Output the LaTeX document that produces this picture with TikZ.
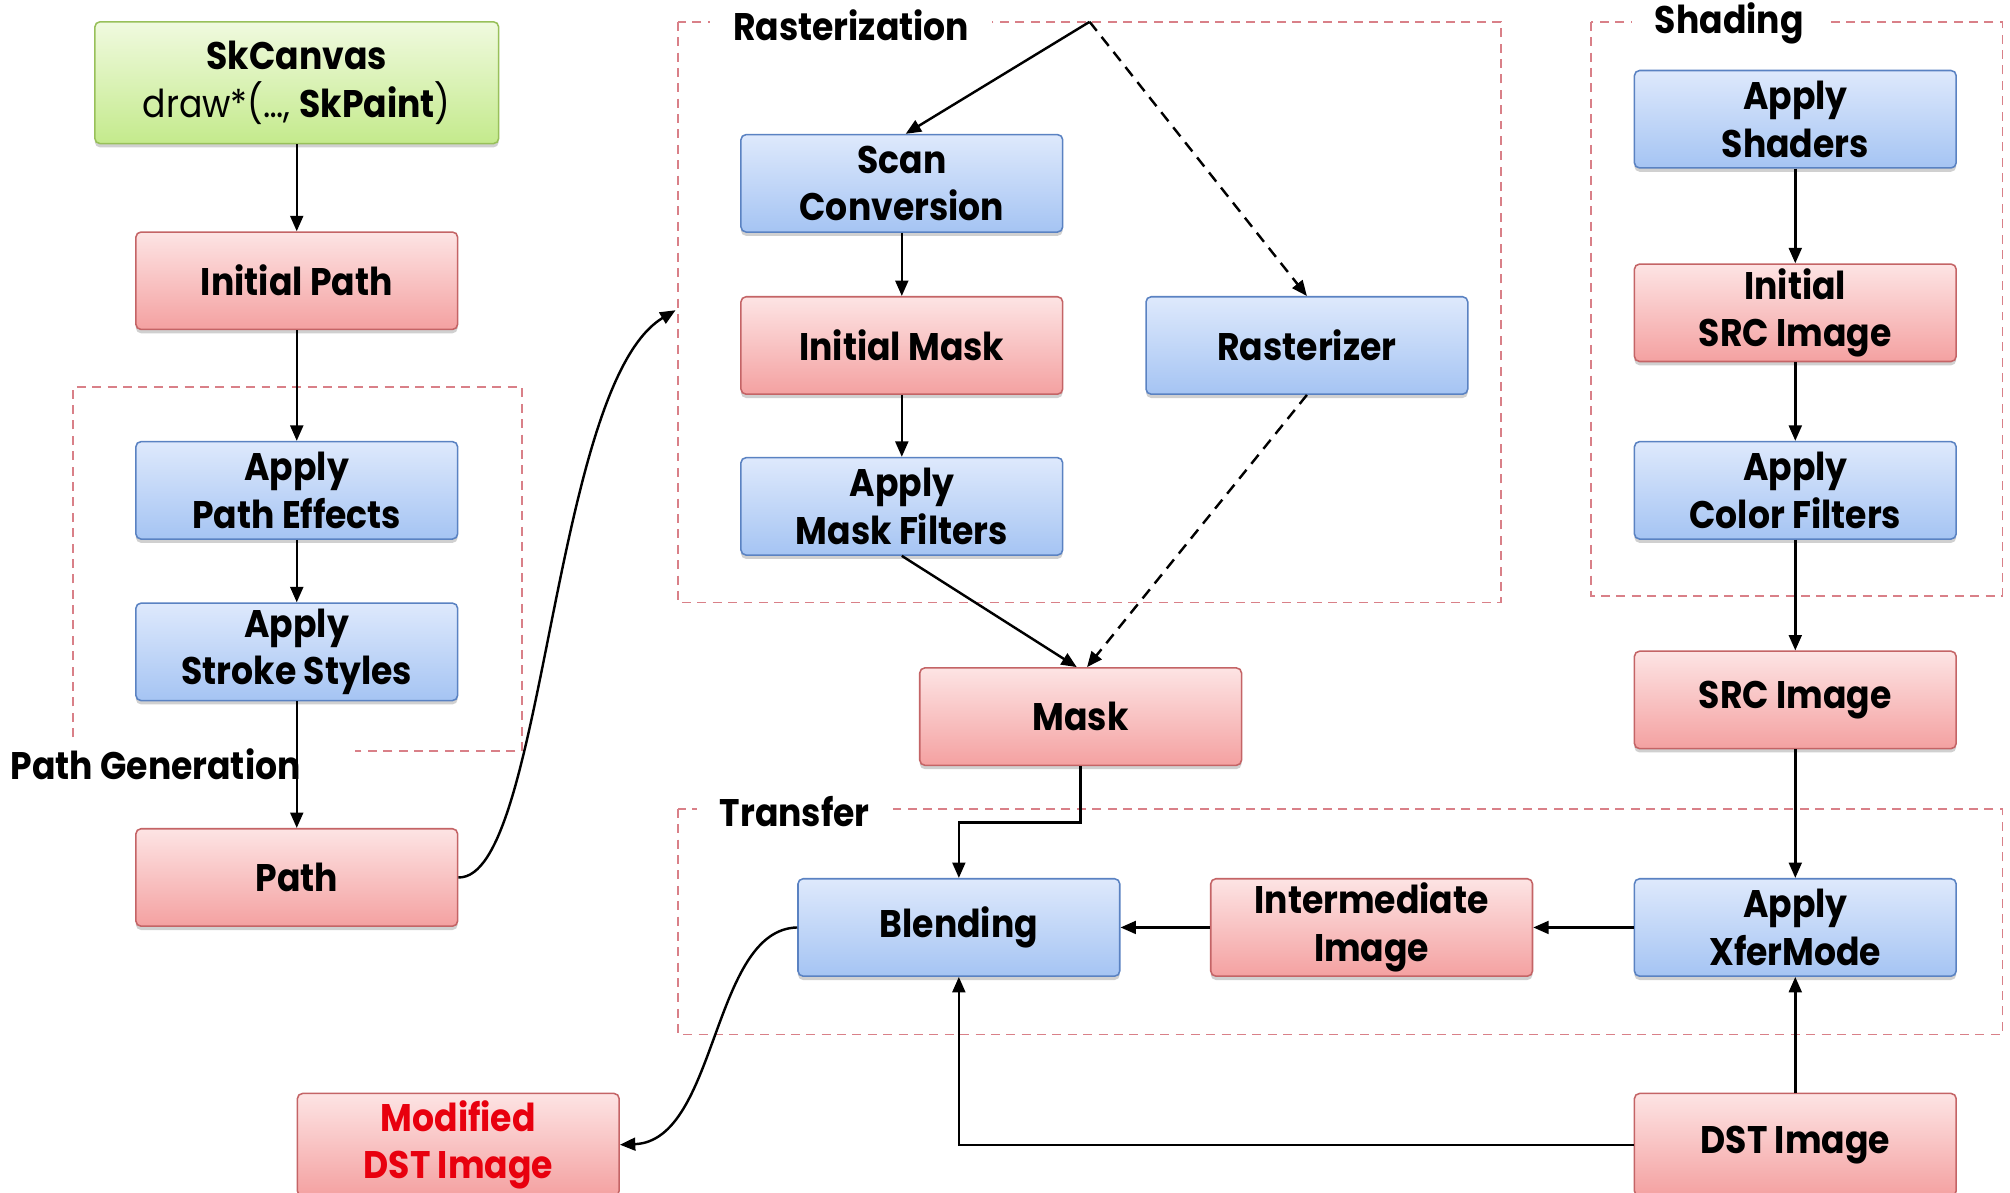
\documentclass[tikz,border=0pt]{standalone}
\usepackage{fontspec}
\setmainfont{Poppins}[FakeStretch=0.9]
\usetikzlibrary{arrows.meta,shadows}

\definecolor{blueTop}{HTML}{DEE9FC}
\definecolor{blueBot}{HTML}{A5C4F3}
\definecolor{blueLine}{HTML}{5A82C2}
\definecolor{redTop}{HTML}{FDE4E4}
\definecolor{redBot}{HTML}{F4A1A1}
\definecolor{redLine}{HTML}{C46466}
\definecolor{greenTop}{HTML}{F0FADF}
\definecolor{greenBot}{HTML}{C4EA8C}
\definecolor{greenLine}{HTML}{98C05A}
\definecolor{groupLine}{HTML}{D98088}
\definecolor{alertRed}{HTML}{E8000E}

\newcommand{\boxfont}{\fontsize{30}{37}\selectfont\bfseries}
\newcommand{\labelfont}{\fontsize{30}{34}\selectfont\bfseries}

\tikzset{
  box/.style={draw, rounded corners=4pt, minimum width=251pt, minimum height=76pt,
    align=center, font=\boxfont, line width=1.2pt, inner sep=0pt,
    drop shadow={shadow xshift=0pt, shadow yshift=-3pt, opacity=0.3, fill=black!60}},
  bluebox/.style={box, draw=blueLine, top color=blueTop, bottom color=blueBot},
  redbox/.style={box, draw=redLine, top color=redTop, bottom color=redBot},
  greenbox/.style={box, draw=greenLine, top color=greenTop, bottom color=greenBot},
  group/.style={draw=groupLine, dash pattern=on 7pt off 5pt, line width=1.2pt},
  grouplabel/.style={fill=white, font=\labelfont, inner xsep=18pt, inner ysep=3pt},
  arr/.style={line width=1.9pt, -{Triangle[length=12pt,width=10pt]}},
  darr/.style={arr, dash pattern=on 9pt off 6pt},
}

\begin{document}
\begin{tikzpicture}[x=1pt,y=-1pt]
\useasboundingbox[fill=white] (0,0) rectangle (1568,930);

% group frames
\draw[group] (57,575) -- (57,302) -- (407,302) -- (407,586) -- (277,586);
\draw[group] (529,17) rectangle (1171,470);
\draw[group] (1241,17) rectangle (1562,465);
\draw[group] (529,631) rectangle (1562,807);

% group titles
\node[grouplabel] (lrast) at (664,20) {Rasterization};
\node[grouplabel] (lshad) at (1349,18) {Shading};
\node[grouplabel] (ltrans) at (620,633) {Transfer};
\node[font=\labelfont, anchor=west, inner sep=0pt] (lpath) at (8,596) {Path Generation};

% path generation column
\node[greenbox, minimum width=315pt, minimum height=95pt] (sk) at (231.5,64.5)
  {SkCanvas\\{\mdseries draw*(…, }SkPaint{\mdseries )}};
\node[redbox]  (ip)   at (231.5,219)   {Initial Path};
\node[bluebox] (ape)  at (231.5,382.5) {Apply\\Path Effects};
\node[bluebox] (ass)  at (231.5,508.5) {Apply\\Stroke Styles};
\node[redbox]  (path) at (231.5,684.5) {Path};
\node[redbox, minimum height=80pt, text=alertRed] (mod) at (357.5,893) {Modified\\DST Image};

% rasterization
\node[bluebox] (scan)  at (703.5,143)   {Scan\\Conversion};
\node[redbox]  (imask) at (703.5,269.5) {Initial Mask};
\node[bluebox] (amf)   at (703.5,395)   {Apply\\Mask Filters};
\node[bluebox] (rast)  at (1019.5,269.5) {Rasterizer};
\node[redbox]  (mask)  at (843,559)     {Mask};

% shading
\node[bluebox] (shad) at (1400.5,93)    {Apply\\Shaders};
\node[redbox]  (isrc) at (1400.5,244)   {Initial\\SRC Image};
\node[bluebox] (acf)  at (1400.5,382.5) {Apply\\Color Filters};
\node[redbox]  (src)  at (1400.5,546)   {SRC Image};

% transfer
\node[bluebox] (blend) at (748,723.5)    {Blending};
\node[redbox]  (inter) at (1070,723.5)   {Intermediate\\Image};
\node[bluebox] (xfer)  at (1400.5,723.5) {Apply\\XferMode};
\node[redbox, minimum height=80pt] (dst) at (1400.5,893) {DST Image};

\coordinate (rastin) at (527,242);
\coordinate (rastsrc) at (850,17);

% connectors
\draw[arr] (sk) -- (ip);
\draw[arr] (ip) -- (ape);
\draw[arr] (ape) -- (ass);
\draw[arr] (ass) -- (path);
\draw[arr] (path.east) .. controls (425,686) and (430,300) .. (rastin);

\draw[arr] (rastsrc) -- ([xshift=3pt]scan.north);
\draw[darr] (rastsrc) -- (rast.north);
\draw[arr] (scan) -- (imask);
\draw[arr] (imask) -- (amf);
\draw[arr] (amf.south) -- ([xshift=-3pt]mask.north);
\draw[darr] (rast.south) -- ([xshift=5pt]mask.north);
\draw[arr] (mask.south) -- ++(0,44) -| (blend.north);

\draw[arr] (shad) -- (isrc);
\draw[arr] (isrc) -- (acf);
\draw[arr] (acf) -- (src);
\draw[arr] (src) -- (xfer);
\draw[arr] (dst) -- (xfer);
\draw[arr] (xfer) -- (inter);
\draw[arr] (inter) -- (blend);
\draw[arr] (dst.west) -| (blend.south);
\draw[arr] (blend.west) .. controls (555,725) and (560,890) .. (mod.east);
\end{tikzpicture}
\end{document}
